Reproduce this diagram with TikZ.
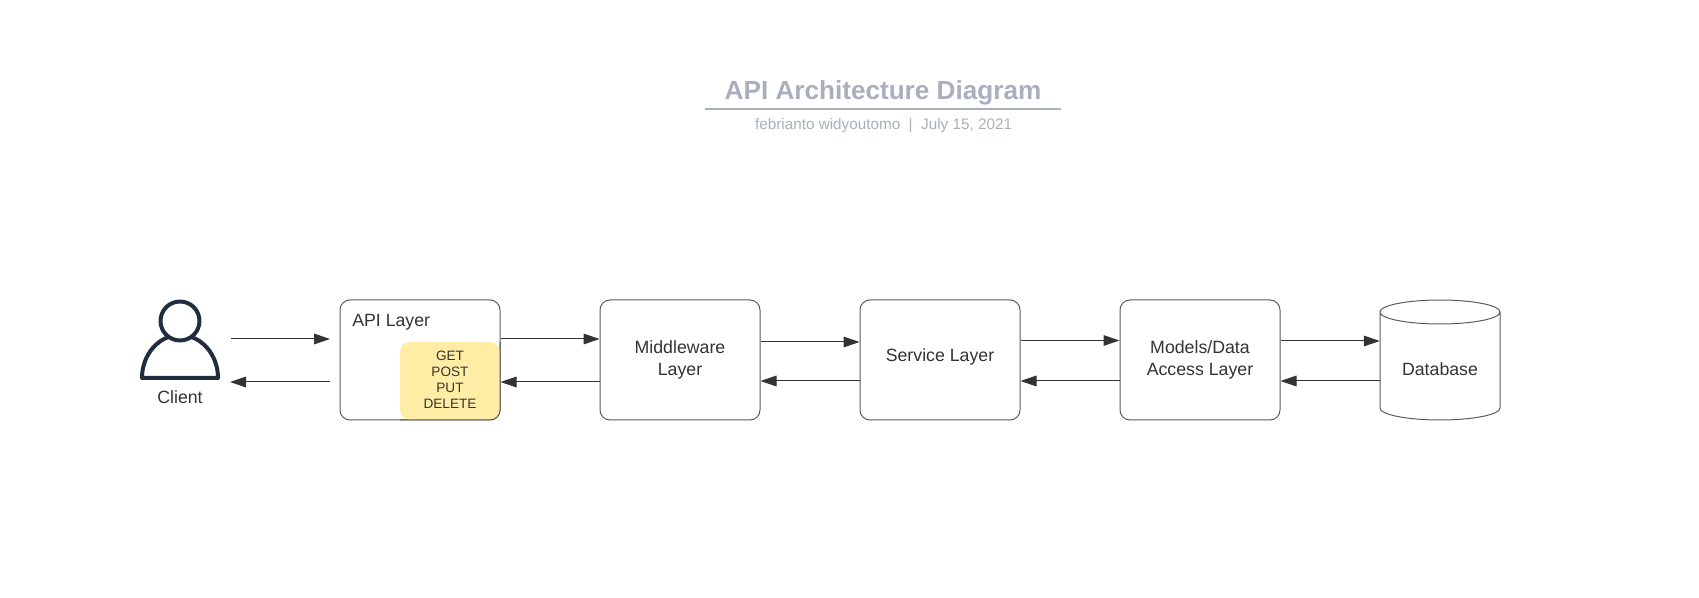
\documentclass[tikz,border=0pt]{standalone}
\usepackage{fontspec}
\setmainfont{Liberation Sans}
\usetikzlibrary{arrows.meta}
\definecolor{ink}{HTML}{333333}
\definecolor{edge}{HTML}{5A5A5A}
\definecolor{titlegray}{HTML}{A9AFBC}
\definecolor{navy}{HTML}{1F2D3F}
\definecolor{notey}{HTML}{FFEDA6}
\tikzset{
  x=0.75pt,y=-0.75pt,
  layerbox/.style={draw=edge,line width=0.75pt,rounded corners=7.5pt,minimum width=120pt,minimum height=90pt,inner sep=0pt},
  plainlabel/.style={inner sep=0pt,text=ink,align=center,font=\fontsize{13.3}{16.2}\selectfont},
  link/.style={draw=ink,line width=0.75pt,-{Triangle[length=12pt,width=8pt]}},
  personline/.style={draw=navy,line width=3pt,line join=round,line cap=round},
}
\begin{document}
\begin{tikzpicture}
\useasboundingbox (0,0) rectangle (1699,598);
% title block
\node[inner sep=0pt,text=titlegray,font=\bfseries\fontsize{19.6}{24}\selectfont] (title) at (883,92.8) {API Architecture Diagram};
\node[inner sep=0pt,minimum width=267pt,minimum height=0pt] (rule) at (883,108.7) {};
\draw[draw=titlegray,line width=1.5pt] (rule.west) -- (rule.east);
\node[inner sep=0pt,text=titlegray,font=\fontsize{11.45}{14}\selectfont] (sub) at (883.6,125.5) {febrianto widyoutomo\ \ |\ \ July 15, 2021};
% client
\draw[personline] (142,378) arc[start angle=180,end angle=360,x radius=38,y radius=43] -- cycle;
\draw[personline,fill=white] (180,321) circle[radius=19.5];
\node[plainlabel] (client) at (180,397) {Client};
\coordinate (cl) at (231,360);
% boxes
\node[layerbox] (api) at (420,360) {};
\node[plainlabel,anchor=west] (apilabel) at (352,322) {API Layer};
\node[fill=notey,rounded corners=7.5pt,minimum width=75pt,minimum height=58.5pt,inner sep=0pt] (methods) at (450,381) {};
\node[inner sep=0pt,align=center,text=ink,font=\fontsize{10.2}{12}\selectfont] (methodstext) at (450,380) {GET\\POST\\PUT\\DELETE};
\draw[edge,line width=0.75pt,rounded corners=7.5pt] (400,420) -- (500,420) -- (500,342);
\node[layerbox,plainlabel,draw=edge] (mid) at (680,360) {Middleware\\Layer};
\node[layerbox] (svc) at (940,360) {};
\node[plainlabel] (svclabel) at (940,357) {Service Layer};
\node[layerbox,plainlabel,draw=edge] (models) at (1200,360) {Models/Data\\Access Layer};
% database
\node[minimum width=90pt,minimum height=90pt,inner sep=0pt] (db) at (1440,360) {};
\draw[edge,line width=0.75pt] (1380,312) arc[start angle=180,end angle=360,x radius=60,y radius=12] arc[start angle=0,end angle=180,x radius=60,y radius=12] -- (1380,408) arc[start angle=180,end angle=0,x radius=60,y radius=12] -- (1500,312);
\node[plainlabel] (dblabel) at (1440,369.5) {Database};
% connectors
\draw[link] ([shift={(0,-21)}]cl) -- ([shift={(-9.5,-21)}]api.west);
\draw[link] ([shift={(-10,22)}]api.west) -- ([shift={(-1,22)}]cl);
\draw[link] ([shift={(0,-21)}]api.east) -- ([shift={(0,-21)}]mid.west);
\draw[link] ([shift={(0,22)}]mid.west) -- ([shift={(0,22)}]api.east);
\draw[link] ([shift={(0,-18)}]mid.east) -- ([shift={(0,-18)}]svc.west);
\draw[link] ([shift={(0,21)}]svc.west) -- ([shift={(0,21)}]mid.east);
\draw[link] ([shift={(0,-19.5)}]svc.east) -- ([shift={(0,-19.5)}]models.west);
\draw[link] ([shift={(0,21)}]models.west) -- ([shift={(0,21)}]svc.east);
\draw[link] ([shift={(0,-19)}]models.east) -- ([shift={(0,-19)}]db.west);
\draw[link] ([shift={(0,21)}]db.west) -- ([shift={(0,21)}]models.east);
\end{tikzpicture}
\end{document}
